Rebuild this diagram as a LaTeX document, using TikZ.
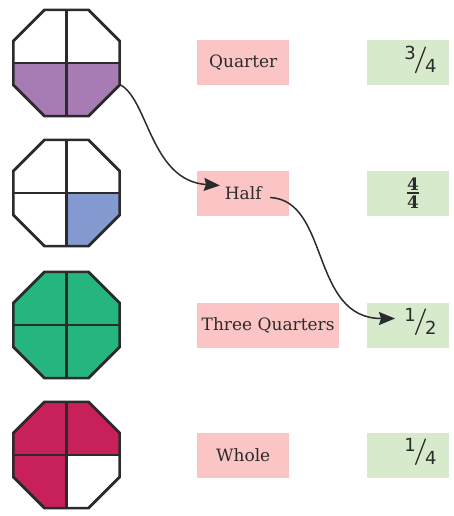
\documentclass[tikz,border=0pt]{standalone}
\usepackage{fontspec}
\usepackage{graphicx}
\setmainfont{DejaVu Serif}
\newfontfamily\fracfont{DejaVu Sans}
\usetikzlibrary{shapes.geometric, arrows.meta, calc}

\definecolor{partpurple}{HTML}{A77BB3}
\definecolor{partblue}{HTML}{8399CF}
\definecolor{partgreen}{HTML}{25B57E}
\definecolor{partred}{HTML}{C8205A}
\definecolor{wordpink}{HTML}{FCC5C5}
\definecolor{fracgreen}{HTML}{D7EACC}
\definecolor{inkgray}{HTML}{2B2B2B}

% slanted fraction: raised numerator, tall slash, denominator
\newcommand{\slfrac}[2]{{\fracfont\fontsize{18}{18}\selectfont\raisebox{13pt}{#1}\kern-1pt\raisebox{-0.5pt}{\rotatebox{-21}{\rule{1.3pt}{28pt}}}\kern-1pt#2\rule[-8pt]{0pt}{8pt}}}
% stacked fraction with a bar
\newcommand{\stkfrac}[2]{{\bfseries\fontsize{17}{17}\selectfont$\vcenter{\hbox{#1}\kern1.8pt\hrule height 1.3pt\kern1.8pt\hbox{#2}}$}}

\begin{document}
\begin{tikzpicture}[x=1pt, y=1pt,
    octagon/.style={regular polygon, regular polygon sides=8, minimum size=115pt,
      inner sep=0pt, outer sep=0pt, draw=inkgray, line width=2.7pt},
    wordbox/.style={fill=wordpink, anchor=west, minimum width=92pt, minimum height=45pt,
      inner sep=4.5pt, text=inkgray, font=\fontsize{17}{20}\selectfont},
    fracbox/.style={fill=fracgreen, minimum width=82pt, minimum height=45pt,
      inner sep=0pt, text=inkgray},
    link/.style={line width=1.5pt, draw=inkgray, -{Stealth[length=16pt, width=13pt, inset=2pt]}}]
    \useasboundingbox (0,0) rectangle (453,-516);

    % Octagons cut into quarters
    \foreach \n/\y/\nw/\ne/\sw/\se in {1/63/white/white/partpurple/partpurple,
        2/193/white/white/white/partblue,
        3/325/partgreen/partgreen/partgreen/partgreen,
        4/455/partred/partred/partred/white} {
        \node[octagon, path picture={
            \fill[\nw] (path picture bounding box.center) rectangle (path picture bounding box.north west);
            \fill[\ne] (path picture bounding box.center) rectangle (path picture bounding box.north east);
            \fill[\sw] (path picture bounding box.center) rectangle (path picture bounding box.south west);
            \fill[\se] (path picture bounding box.center) rectangle (path picture bounding box.south east);
            \draw[inkgray, line width=2.3pt] (path picture bounding box.north) -- (path picture bounding box.south);
            \draw[inkgray, line width=2.3pt] (path picture bounding box.west) -- (path picture bounding box.east);
          }] (oct\n) at (66.5,-\y) {};
    }

    % Words
    \foreach \name/\y/\word in {quarter/63/Quarter, half/193/Half,
        threeq/325/Three Quarters, whole/455/Whole} {
        \node[wordbox] (\name) at (197,-\y) {\word};
    }

    % Fractions
    \node[fracbox] (f34) at (408,-63) {\hspace*{25pt}\slfrac{3}{4}};
    \node[fracbox] (f44) at (408,-193) {\hspace*{10pt}\stkfrac{4}{4}};
    \node[fracbox] (f12) at (408,-325) {\hspace*{25pt}\slfrac{1}{2}};
    \node[fracbox] (f14) at (408,-455) {\hspace*{25pt}\slfrac{1}{4}};

    % Connections
    \coordinate (half-in) at ($(half.west)+(23,7.5)$);
    \coordinate (half-out) at ($(half.center)+(27,-4.5)$);
    \coordinate (f12-in) at ($(f12.center)+(-13,6.5)$);
    \draw[link] (oct1.-22.5) .. controls +(-26:32) and +(176:70) .. (half-in);
    \draw[link] (half-out) .. controls +(-3:60) and +(180:85) .. (f12-in);
\end{tikzpicture}
\end{document}
